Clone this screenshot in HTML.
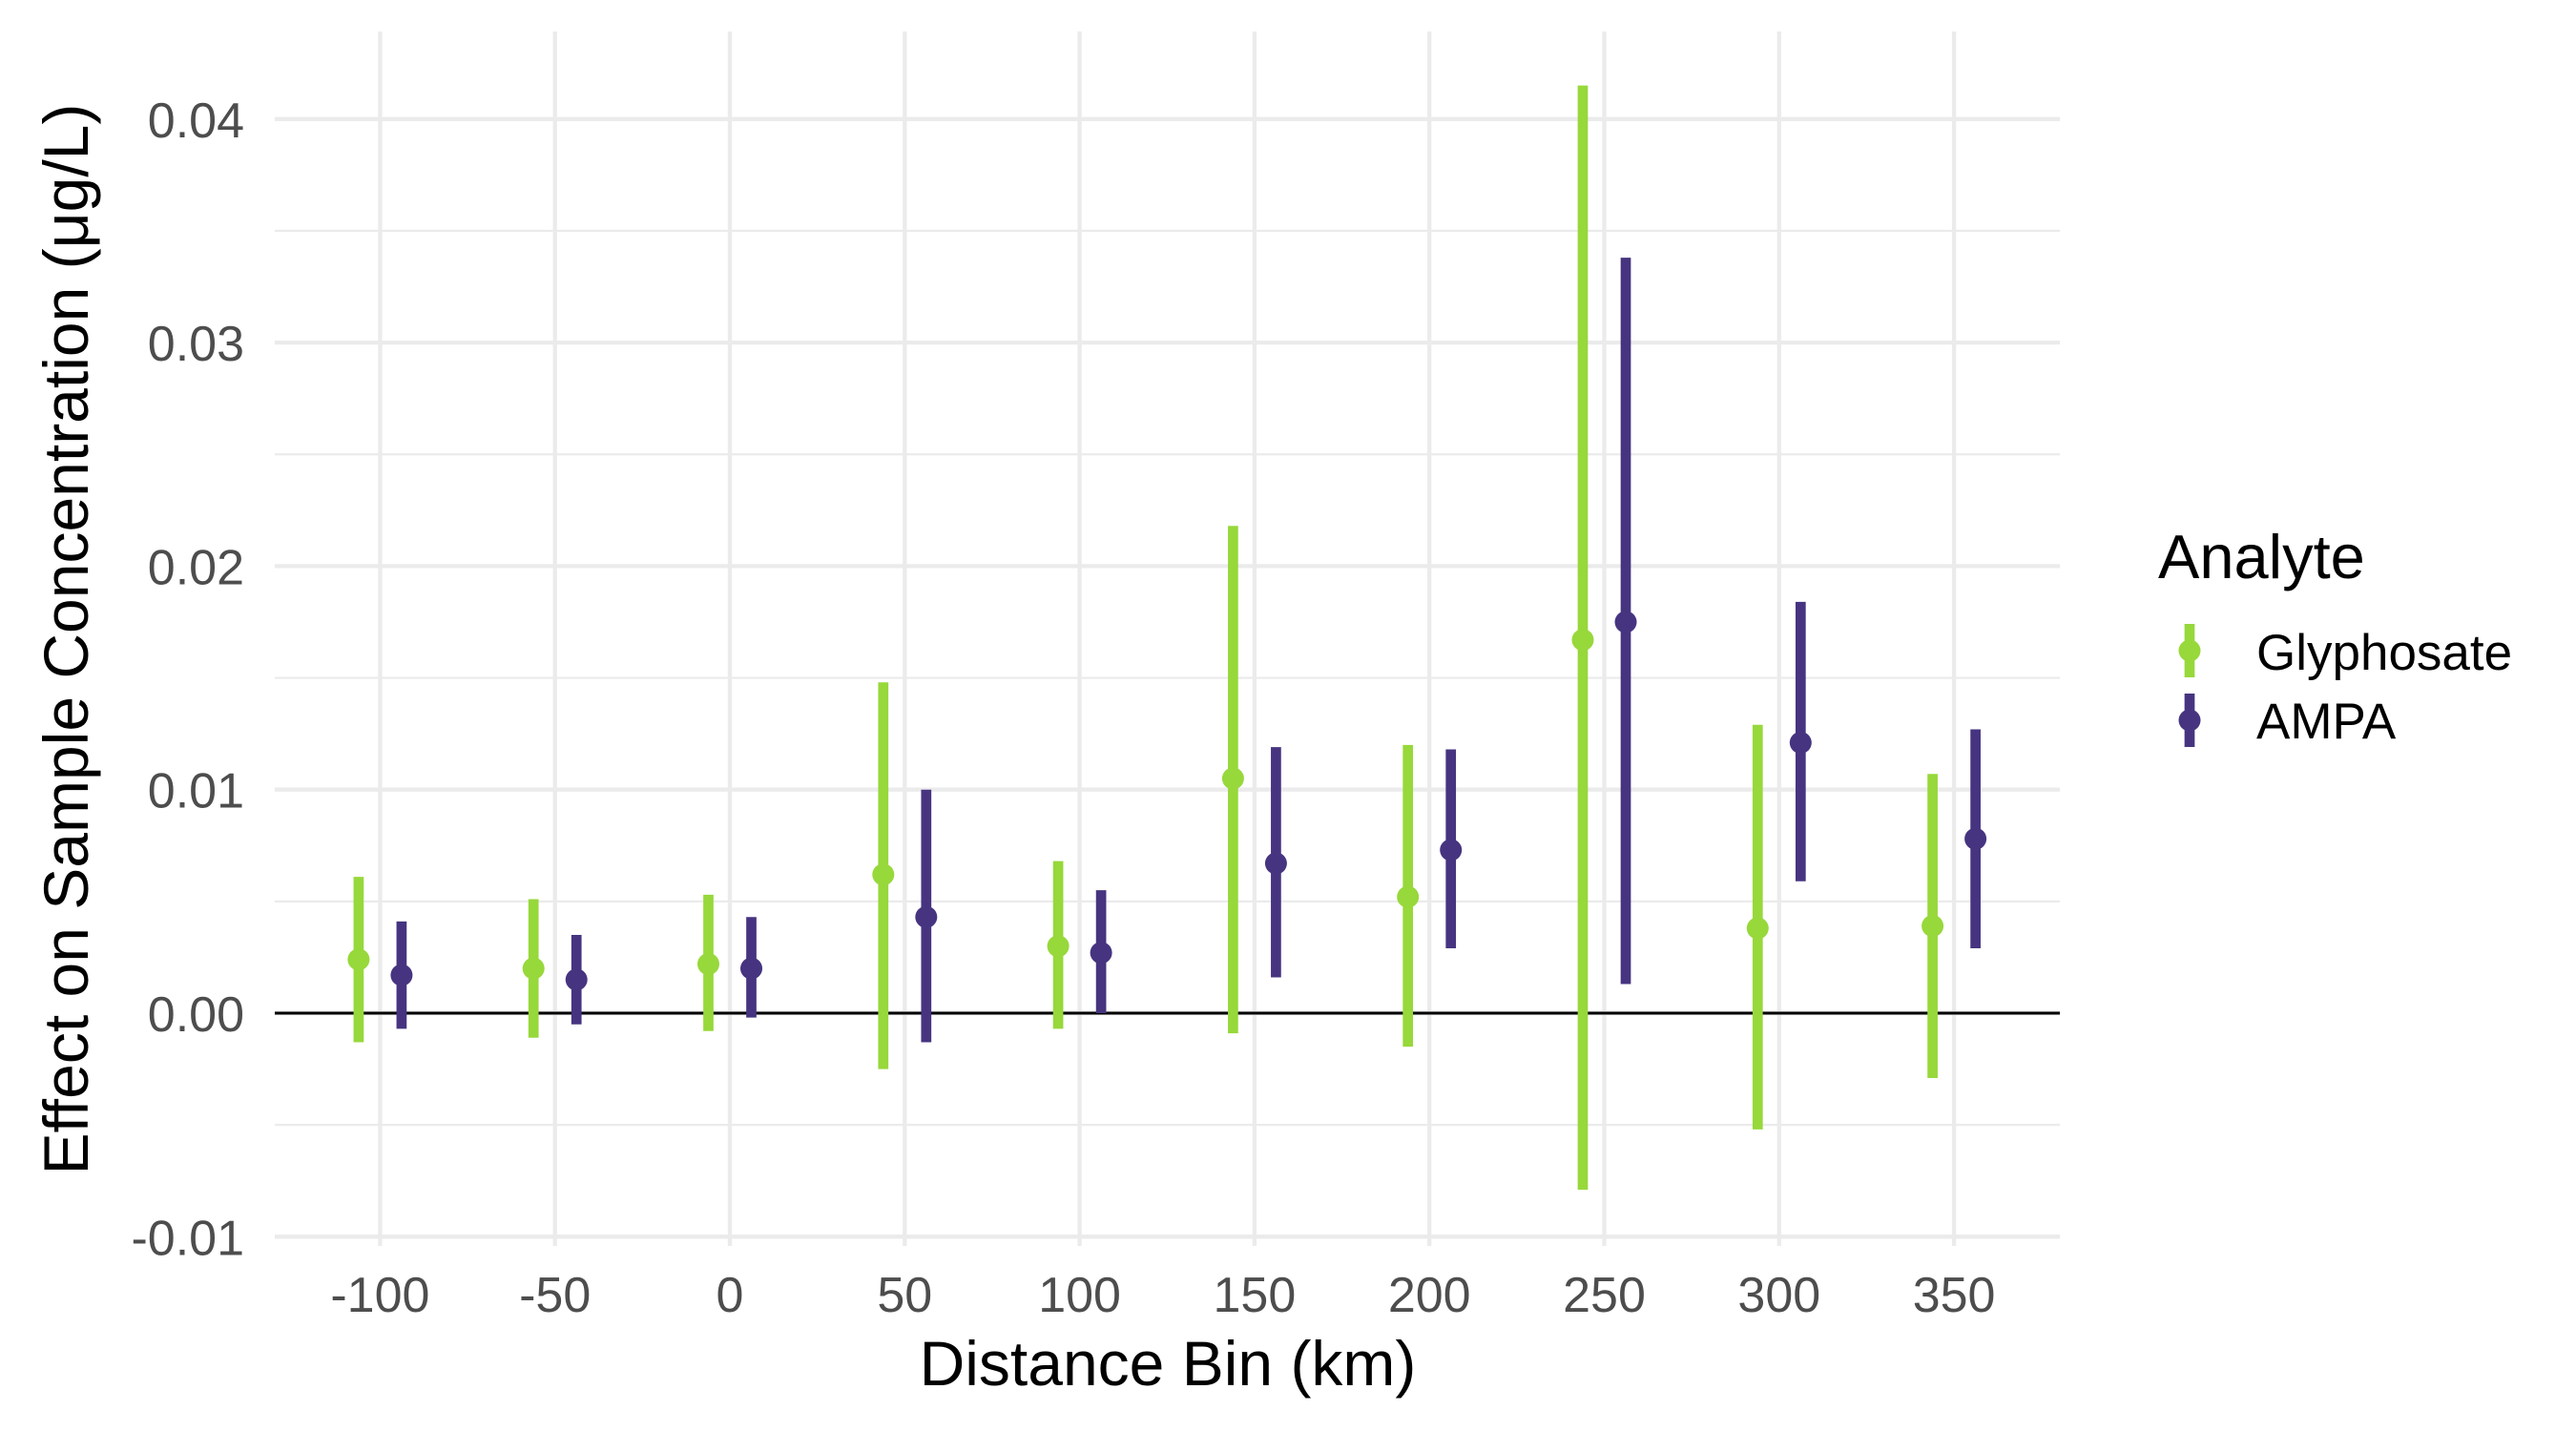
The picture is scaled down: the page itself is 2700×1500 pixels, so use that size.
<!DOCTYPE html>
<html><head><meta charset="utf-8"><style>
html,body{margin:0;padding:0;background:#fff;}
svg{display:block;font-family:"Liberation Sans",Arial,sans-serif;}
</style></head><body>
<svg id="chart" width="2700" height="1500" viewBox="0 0 2700 1500" xmlns="http://www.w3.org/2000/svg">
<rect x="0" y="0" width="2700" height="1500" fill="#fff"/>
<g id="grid"></g>
<g id="marks"></g>
<g id="axes"></g>
<text x="1224" y="1452" font-size="66" text-anchor="middle" fill="#000">Distance Bin (km)</text>
<text transform="translate(92,670) rotate(-90)" font-size="66" text-anchor="middle" fill="#000">Effect on Sample Concentration (μg/L)</text>
<g>
<text x="2262" y="606" font-size="65" fill="#000">Analyte</text>
<g>
<line x1="2295" y1="654" x2="2295" y2="710" stroke="#97d83b" stroke-width="10.7"/>
<circle cx="2295" cy="682" r="11.5" fill="#97d83b"/>
<text x="2365" y="702" font-size="53" fill="#000">Glyphosate</text>
</g>
<g>
<line x1="2295" y1="727" x2="2295" y2="783" stroke="#463480" stroke-width="10.7"/>
<circle cx="2295" cy="755" r="11.5" fill="#463480"/>
<text x="2365" y="774" font-size="53" fill="#000">AMPA</text>
</g>
</g>
</svg>
<script>
const categories = [-100, -50, 0, 50, 100, 150, 200, 250, 300, 350];
const glyEst = [0.0024, 0.0020, 0.0022, 0.0062, 0.0030, 0.0105, 0.0052, 0.0167, 0.0038, 0.0039];
const glyLo  = [-0.0013, -0.0011, -0.0008, -0.0025, -0.0007, -0.0009, -0.0015, -0.0079, -0.0052, -0.0029];
const glyHi  = [0.0061, 0.0051, 0.0053, 0.0148, 0.0068, 0.0218, 0.0120, 0.0415, 0.0129, 0.0107];
const ampaEst = [0.0017, 0.0015, 0.0020, 0.0043, 0.0027, 0.0067, 0.0073, 0.0175, 0.0121, 0.0078];
const ampaLo  = [-0.0007, -0.0005, -0.0002, -0.0013, 0.0000, 0.0016, 0.0029, 0.0013, 0.0059, 0.0029];
const ampaHi  = [0.0041, 0.0035, 0.0043, 0.0100, 0.0055, 0.0119, 0.0118, 0.0338, 0.0184, 0.0127];
const yTicks = [-0.01, 0, 0.01, 0.02, 0.03, 0.04];
const yTickLabels = ["-0.01", "0.00", "0.01", "0.02", "0.03", "0.04"];
const xTickLabels = ["-100", "-50", "0", "50", "100", "150", "200", "250", "300", "350"];

const NS = "http://www.w3.org/2000/svg";
const L = 288, R = 2159, T = 33, B = 1306;
function xs(v){ return 765 + v * (183.3 / 50); }
function ys(v){ return 1062 - v * 23430; }
const dodge = 6.14;
function mk(tag, attrs, parent){
  const e = document.createElementNS(NS, tag);
  for (const k in attrs) e.setAttribute(k, attrs[k]);
  parent.appendChild(e);
  return e;
}
const grid = document.getElementById('grid');
const marks = document.getElementById('marks');
const axes = document.getElementById('axes');
for (let i = 0; i < yTicks.length - 1; i++) {
  const v = (yTicks[i] + yTicks[i+1]) / 2;
  const l = mk('line', {x1: L, x2: R, y1: ys(v), y2: ys(v), stroke: '#ebebeb', 'stroke-width': 2.2}, grid);
  
  
}
yTicks.forEach((v, i) => {
  const l = mk('line', {x1: L, x2: R, y1: ys(v), y2: ys(v), stroke: '#ebebeb', 'stroke-width': 4.3}, grid);
  
  
  const t = mk('text', {x: 256, y: ys(v) + 19, 'font-size': 52, 'text-anchor': 'end', fill: '#4d4d4d'}, axes);
  t.textContent = yTickLabels[i];
  
  
});
categories.forEach((c, i) => {
  const l = mk('line', {x1: xs(c), x2: xs(c), y1: T, y2: B, stroke: '#ebebeb', 'stroke-width': 4.3}, grid);
  
  
  const t = mk('text', {x: xs(c), y: 1375, 'font-size': 52, 'text-anchor': 'middle', fill: '#4d4d4d'}, axes);
  t.textContent = xTickLabels[i];
  
  
});
const zl = mk('line', {x1: L, x2: R, y1: ys(0), y2: ys(0), stroke: '#000', 'stroke-width': 3}, marks);


function series(est, lo, hi, off, color, name){
  categories.forEach((c, i) => {
    const x = xs(c + off);
    const l = mk('line', {x1: x, x2: x, y1: ys(lo[i]), y2: ys(hi[i]), stroke: color, 'stroke-width': 10.7}, marks);
    
    
    const p = mk('circle', {cx: x, cy: ys(est[i]), r: 11.5, fill: color}, marks);
    
    
  });
}
series(glyEst, glyLo, glyHi, -dodge, '#97d83b', 'glyphosate');
series(ampaEst, ampaLo, ampaHi, dodge, '#463480', 'ampa');
</script>
</body></html>
